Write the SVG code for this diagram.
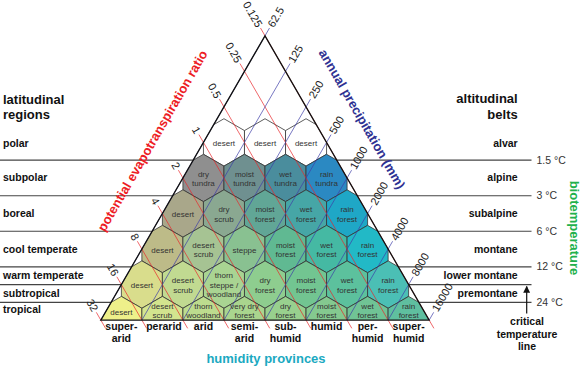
<svg xmlns="http://www.w3.org/2000/svg" xmlns:xlink="http://www.w3.org/1999/xlink" width="582" height="368" viewBox="0 0 582 368">
<style>
text{font-family:"Liberation Sans",Arial,sans-serif}
.hx{stroke:#333;stroke-width:0.8}
.hl{font-size:8px;fill:#333;text-anchor:middle}
.reg{font-size:10.5px;font-weight:bold;fill:#111}
.regr{font-size:10.5px;font-weight:bold;fill:#111;text-anchor:end}
.ttl{font-size:13px;font-weight:bold;fill:#111}
.ttlr{font-size:13px;font-weight:bold;fill:#111;text-anchor:end}
.tmp{font-size:10.5px;fill:#333}
.num{font-size:11px;fill:#222}
.hp{font-size:10.5px;font-weight:bold;fill:#111;text-anchor:middle}
.red{stroke:#e8262b;stroke-width:0.7;fill:none}
.blue{stroke:#3d3da8;stroke-width:0.7;fill:none}
.hline{stroke:#444;stroke-width:1.2;fill:none}
</style>
<defs>
<path id="hex" d="M0,-23.69 L20.52,-11.85 L20.52,11.85 L0,23.69 L-20.52,11.85 L-20.52,-11.85 Z"/>
<clipPath id="tri"><polygon points="265,35.8 429.16,320.12 100.84,320.12"/></clipPath>
<marker id="arr" viewBox="0 0 10 10" refX="9" refY="5" markerWidth="7" markerHeight="7" orient="auto-start-reverse" markerUnits="userSpaceOnUse"><path d="M0,0 L10,5 L0,10 Z" fill="#111"/></marker>
</defs>
<rect width="582" height="368" fill="#fff"/>

<g id="hexes" clip-path="url(#tri)">
<g id="polar-desert-1"><use href="#hex" x="223.96" y="142.42" fill="#ffffff" class="hx"/></g>
<g id="polar-desert-2"><use href="#hex" x="265" y="142.42" fill="#ffffff" class="hx"/></g>
<g id="polar-desert-3"><use href="#hex" x="306.04" y="142.42" fill="#ffffff" class="hx"/></g>
<g id="dry-tundra"><use href="#hex" x="203.44" y="177.96" fill="#8f8f8f" class="hx"/></g>
<g id="moist-tundra"><use href="#hex" x="244.48" y="177.96" fill="#6f9090" class="hx"/></g>
<g id="wet-tundra"><use href="#hex" x="285.52" y="177.96" fill="#4a8d9d" class="hx"/></g>
<g id="rain-tundra"><use href="#hex" x="326.56" y="177.96" fill="#2b89c2" class="hx"/></g>
<g id="boreal-desert"><use href="#hex" x="182.92" y="213.5" fill="#a9a78a" class="hx"/></g>
<g id="boreal-dry-scrub"><use href="#hex" x="223.96" y="213.5" fill="#8aa891" class="hx"/></g>
<g id="boreal-moist-forest"><use href="#hex" x="265" y="213.5" fill="#61a696" class="hx"/></g>
<g id="boreal-wet-forest"><use href="#hex" x="306.04" y="213.5" fill="#46a6a6" class="hx"/></g>
<g id="boreal-rain-forest"><use href="#hex" x="347.08" y="213.5" fill="#1fa7c6" class="hx"/></g>
<g id="cool-desert"><use href="#hex" x="162.4" y="249.04" fill="#bdbb88" class="hx"/></g>
<g id="cool-desert-scrub"><use href="#hex" x="203.44" y="249.04" fill="#a6c393" class="hx"/></g>
<g id="cool-steppe"><use href="#hex" x="244.48" y="249.04" fill="#89c191" class="hx"/></g>
<g id="cool-moist-forest"><use href="#hex" x="285.52" y="249.04" fill="#60b992" class="hx"/></g>
<g id="cool-wet-forest"><use href="#hex" x="326.56" y="249.04" fill="#45b9a3" class="hx"/></g>
<g id="cool-rain-forest"><use href="#hex" x="367.6" y="249.04" fill="#22b9c6" class="hx"/></g>
<g id="warm-desert"><use href="#hex" x="141.88" y="284.58" fill="#d9dd8c" class="hx"/></g>
<g id="warm-desert-scrub"><use href="#hex" x="182.92" y="284.58" fill="#c1da91" class="hx"/></g>
<g id="warm-thorn-steppe"><use href="#hex" x="223.96" y="284.58" fill="#a9d492" class="hx"/></g>
<g id="warm-dry-forest"><use href="#hex" x="265" y="284.58" fill="#8ecd8f" class="hx"/></g>
<g id="warm-moist-forest"><use href="#hex" x="306.04" y="284.58" fill="#72c591" class="hx"/></g>
<g id="warm-wet-forest"><use href="#hex" x="347.08" y="284.58" fill="#5cc19d" class="hx"/></g>
<g id="warm-rain-forest"><use href="#hex" x="388.12" y="284.58" fill="#4bbfb5" class="hx"/></g>
<g id="trop-desert"><use href="#hex" x="121.36" y="320.12" fill="#eef08a" class="hx"/></g>
<g id="trop-desert-scrub"><use href="#hex" x="162.4" y="320.12" fill="#d3e48e" class="hx"/></g>
<g id="trop-thorn-woodland"><use href="#hex" x="203.44" y="320.12" fill="#bddc8e" class="hx"/></g>
<g id="trop-very-dry-forest"><use href="#hex" x="244.48" y="320.12" fill="#a9d58e" class="hx"/></g>
<g id="trop-dry-forest"><use href="#hex" x="285.52" y="320.12" fill="#98d08e" class="hx"/></g>
<g id="trop-moist-forest"><use href="#hex" x="326.56" y="320.12" fill="#84c98f" class="hx"/></g>
<g id="trop-wet-forest"><use href="#hex" x="367.6" y="320.12" fill="#70c395" class="hx"/></g>
<g id="trop-rain-forest"><use href="#hex" x="408.64" y="320.12" fill="#5fbf9f" class="hx"/></g>
</g>

<g id="connectors">
<g id="pet-lines">
<line class="red" x1="260.5" y1="28.01" x2="433.91" y2="328.35"/>
<line class="red" x1="239.98" y1="63.55" x2="392.87" y2="328.35"/>
<line class="red" x1="219.46" y1="99.09" x2="351.83" y2="328.35"/>
<line class="red" x1="198.94" y1="134.63" x2="310.79" y2="328.35"/>
<line class="red" x1="178.42" y1="170.17" x2="269.75" y2="328.35"/>
<line class="red" x1="157.9" y1="205.71" x2="228.71" y2="328.35"/>
<line class="red" x1="137.38" y1="241.25" x2="187.67" y2="328.35"/>
<line class="red" x1="116.86" y1="276.79" x2="146.63" y2="328.35"/>
<line class="red" x1="96.34" y1="312.33" x2="105.59" y2="328.35"/>
</g>
<g id="precip-lines">
<line class="blue" x1="269.5" y1="28.01" x2="100.84" y2="320.12"/>
<line class="blue" x1="290.02" y1="63.55" x2="141.88" y2="320.12"/>
<line class="blue" x1="310.54" y1="99.09" x2="182.92" y2="320.12"/>
<line class="blue" x1="331.06" y1="134.63" x2="223.96" y2="320.12"/>
<line class="blue" x1="351.58" y1="170.17" x2="265" y2="320.12"/>
<line class="blue" x1="372.1" y1="205.71" x2="306.04" y2="320.12"/>
<line class="blue" x1="392.62" y1="241.25" x2="347.08" y2="320.12"/>
<line class="blue" x1="413.14" y1="276.79" x2="388.12" y2="320.12"/>
<line class="blue" x1="433.66" y1="312.33" x2="429.16" y2="320.12"/>
</g>
<g id="temp-lines">
<line class="hline" x1="0" y1="160.19" x2="193.18" y2="160.19"/>
<line class="hline" x1="0" y1="195.73" x2="172.66" y2="195.73"/>
<line class="hline" x1="0" y1="231.27" x2="152.15" y2="231.27"/>
<line class="hline" x1="0" y1="266.81" x2="131.63" y2="266.81"/>
<line class="hline" x1="0" y1="284.58" x2="121.37" y2="284.58"/>
<line class="hline" x1="0" y1="302.35" x2="111.11" y2="302.35"/>
<line class="hline" x1="336.82" y1="160.19" x2="531.5" y2="160.19"/>
<line class="hline" x1="357.34" y1="195.73" x2="531.5" y2="195.73"/>
<line class="hline" x1="377.85" y1="231.27" x2="531.5" y2="231.27"/>
<line class="hline" x1="398.37" y1="266.81" x2="531.5" y2="266.81"/>
<line class="hline" x1="408.63" y1="284.58" x2="531.5" y2="284.58"/>
<line class="hline" x1="418.89" y1="302.35" x2="531.5" y2="302.35"/>
</g>
<line id="critical-arrow" x1="526.7" y1="313.5" x2="526.7" y2="286.5" stroke="#111" stroke-width="1.2" marker-end="url(#arr)"/>
</g>

<polygon id="triangle" points="265,35.8 429.16,320.12 100.84,320.12" fill="none" stroke="#111" stroke-width="1.3" stroke-linejoin="miter"/>

<g id="hex-labels">
<text class="hl" x="223.96" y="145.9">desert</text>
<text class="hl" x="265" y="145.9">desert</text>
<text class="hl" x="306.04" y="145.9">desert</text>
<text class="hl" x="203.44" y="176.8">dry<tspan x="203.44" y="186.3">tundra</tspan></text>
<text class="hl" x="244.48" y="176.8">moist<tspan x="244.48" y="186.3">tundra</tspan></text>
<text class="hl" x="285.52" y="176.8">wet<tspan x="285.52" y="186.3">tundra</tspan></text>
<text class="hl" x="326.56" y="176.8">rain<tspan x="326.56" y="186.3">tundra</tspan></text>
<text class="hl" x="182.92" y="217">desert</text>
<text class="hl" x="223.96" y="212.3">dry<tspan x="223.96" y="221.8">scrub</tspan></text>
<text class="hl" x="265" y="212.3">moist<tspan x="265" y="221.8">forest</tspan></text>
<text class="hl" x="306.04" y="212.3">wet<tspan x="306.04" y="221.8">forest</tspan></text>
<text class="hl" x="347.08" y="212.3">rain<tspan x="347.08" y="221.8">forest</tspan></text>
<text class="hl" x="162.4" y="252.5">desert</text>
<text class="hl" x="203.44" y="247.8">desert<tspan x="203.44" y="257.3">scrub</tspan></text>
<text class="hl" x="244.48" y="252.5">steppe</text>
<text class="hl" x="285.52" y="247.8">moist<tspan x="285.52" y="257.3">forest</tspan></text>
<text class="hl" x="326.56" y="247.8">wet<tspan x="326.56" y="257.3">forest</tspan></text>
<text class="hl" x="367.6" y="247.8">rain<tspan x="367.6" y="257.3">forest</tspan></text>
<text class="hl" x="141.88" y="288">desert</text>
<text class="hl" x="182.92" y="283.4">desert<tspan x="182.92" y="292.9">scrub</tspan></text>
<text class="hl" x="223.96" y="278.1">thorn<tspan x="223.96" y="287.6">steppe /</tspan><tspan x="223.96" y="297.1">woodland</tspan></text>
<text class="hl" x="265" y="283.4">dry<tspan x="265" y="292.9">forest</tspan></text>
<text class="hl" x="306.04" y="283.4">moist<tspan x="306.04" y="292.9">forest</tspan></text>
<text class="hl" x="347.08" y="283.4">wet<tspan x="347.08" y="292.9">forest</tspan></text>
<text class="hl" x="388.12" y="283.4">rain<tspan x="388.12" y="292.9">forest</tspan></text>
<text class="hl" x="121.36" y="314.8">desert</text>
<text class="hl" x="162.4" y="309.2">desert<tspan x="162.4" y="318.3">scrub</tspan></text>
<text class="hl" x="203.44" y="309.2">thorn<tspan x="203.44" y="318.3">woodland</tspan></text>
<text class="hl" x="244.48" y="309.2">very dry<tspan x="244.48" y="318.3">forest</tspan></text>
<text class="hl" x="285.52" y="309.2">dry<tspan x="285.52" y="318.3">forest</tspan></text>
<text class="hl" x="326.56" y="309.2">moist<tspan x="326.56" y="318.3">forest</tspan></text>
<text class="hl" x="367.6" y="309.2">wet<tspan x="367.6" y="318.3">forest</tspan></text>
<text class="hl" x="408.64" y="309.2">rain<tspan x="408.64" y="318.3">forest</tspan></text>
</g>

<g id="pet-scale">
<text class="num" text-anchor="end" x="256.2" y="28.2" transform="rotate(60 256.2 28.2)">0.125</text>
<text class="num" text-anchor="end" x="235.68" y="63.74" transform="rotate(60 235.68 63.74)">0.25</text>
<text class="num" text-anchor="end" x="215.16" y="99.28" transform="rotate(60 215.16 99.28)">0.5</text>
<text class="num" text-anchor="end" x="194.64" y="134.82" transform="rotate(60 194.64 134.82)">1</text>
<text class="num" text-anchor="end" x="174.12" y="170.36" transform="rotate(60 174.12 170.36)">2</text>
<text class="num" text-anchor="end" x="153.6" y="205.9" transform="rotate(60 153.6 205.9)">4</text>
<text class="num" text-anchor="end" x="133.08" y="241.44" transform="rotate(60 133.08 241.44)">8</text>
<text class="num" text-anchor="end" x="112.56" y="276.98" transform="rotate(60 112.56 276.98)">16</text>
<text class="num" text-anchor="end" x="92.04" y="312.52" transform="rotate(60 92.04 312.52)">32</text>
</g>
<g id="precip-scale">
<text class="num" x="273.8" y="28.2" transform="rotate(-60 273.8 28.2)">62.5</text>
<text class="num" x="294.32" y="63.74" transform="rotate(-60 294.32 63.74)">125</text>
<text class="num" x="314.84" y="99.28" transform="rotate(-60 314.84 99.28)">250</text>
<text class="num" x="335.36" y="134.82" transform="rotate(-60 335.36 134.82)">500</text>
<text class="num" x="355.88" y="170.36" transform="rotate(-60 355.88 170.36)">1000</text>
<text class="num" x="376.4" y="205.9" transform="rotate(-60 376.4 205.9)">2000</text>
<text class="num" x="396.92" y="241.44" transform="rotate(-60 396.92 241.44)">4000</text>
<text class="num" x="417.44" y="276.98" transform="rotate(-60 417.44 276.98)">8000</text>
<text class="num" x="437.96" y="312.52" transform="rotate(-60 437.96 312.52)">16000</text>
</g>

<g id="axis-titles">
<text x="156.4" y="143" text-anchor="middle" font-size="13" font-weight="bold" fill="#ed1c24" transform="rotate(-60 156.4 143)">potential evapotranspiration ratio</text>
<text x="358.1" y="121.3" text-anchor="middle" font-size="13" font-weight="bold" fill="#2e3192" transform="rotate(60 358.1 121.3)">annual precipitation (mm)</text>
<text x="569.5" y="228" text-anchor="middle" font-size="13" font-weight="bold" fill="#22b14c" transform="rotate(90 569.5 228)">biotemperature</text>
<text x="266" y="363" text-anchor="middle" font-size="13" font-weight="bold" fill="#1ba9c1">humidity provinces</text>
</g>

<g id="latitudinal-regions">
<text class="ttl" x="3" y="104">latitudinal</text>
<text class="ttl" x="3" y="119">regions</text>
<text class="reg" x="3" y="146.7">polar</text>
<text class="reg" x="3" y="181">subpolar</text>
<text class="reg" x="3" y="216.7">boreal</text>
<text class="reg" x="3" y="252.7">cool temperate</text>
<text class="reg" x="3" y="279">warm temperate</text>
<text class="reg" x="3" y="296.7">subtropical</text>
<text class="reg" x="3" y="313.3">tropical</text>
</g>

<g id="altitudinal-belts">
<text class="ttlr" x="517.7" y="103.3">altitudinal</text>
<text class="ttlr" x="517.7" y="119">belts</text>
<text class="regr" x="517.7" y="146.7">alvar</text>
<text class="regr" x="517.7" y="181">alpine</text>
<text class="regr" x="517.7" y="216.7">subalpine</text>
<text class="regr" x="517.7" y="252.7">montane</text>
<text class="regr" x="517.7" y="279">lower montane</text>
<text class="regr" x="517.7" y="296.7">premontane</text>
</g>

<g id="temperatures">
<text class="tmp" x="536.5" y="163.8">1.5 °C</text>
<text class="tmp" x="536.5" y="199.3">3 °C</text>
<text class="tmp" x="536.5" y="234.9">6 °C</text>
<text class="tmp" x="536.5" y="270.4">12 °C</text>
<text class="tmp" x="536.5" y="306">24 °C</text>
</g>

<g id="critical-label">
<text class="hp" x="527" y="325">critical</text>
<text class="hp" x="527" y="337.5">temperature</text>
<text class="hp" x="527" y="350">line</text>
</g>

<g id="humidity-labels">
<text class="hp" x="121.36" y="329.5">super-<tspan x="121.36" y="341.5">arid</tspan></text>
<text class="hp" x="164" y="329.5">perarid</text>
<text class="hp" x="203.44" y="329.5">arid</text>
<text class="hp" x="244.48" y="329.5">semi-<tspan x="244.48" y="341.5">arid</tspan></text>
<text class="hp" x="285.52" y="329.5">sub-<tspan x="285.52" y="341.5">humid</tspan></text>
<text class="hp" x="326.56" y="329.5">humid</text>
<text class="hp" x="367.6" y="329.5">per-<tspan x="367.6" y="341.5">humid</tspan></text>
<text class="hp" x="408.64" y="329.5">super-<tspan x="408.64" y="341.5">humid</tspan></text>
</g>
</svg>
